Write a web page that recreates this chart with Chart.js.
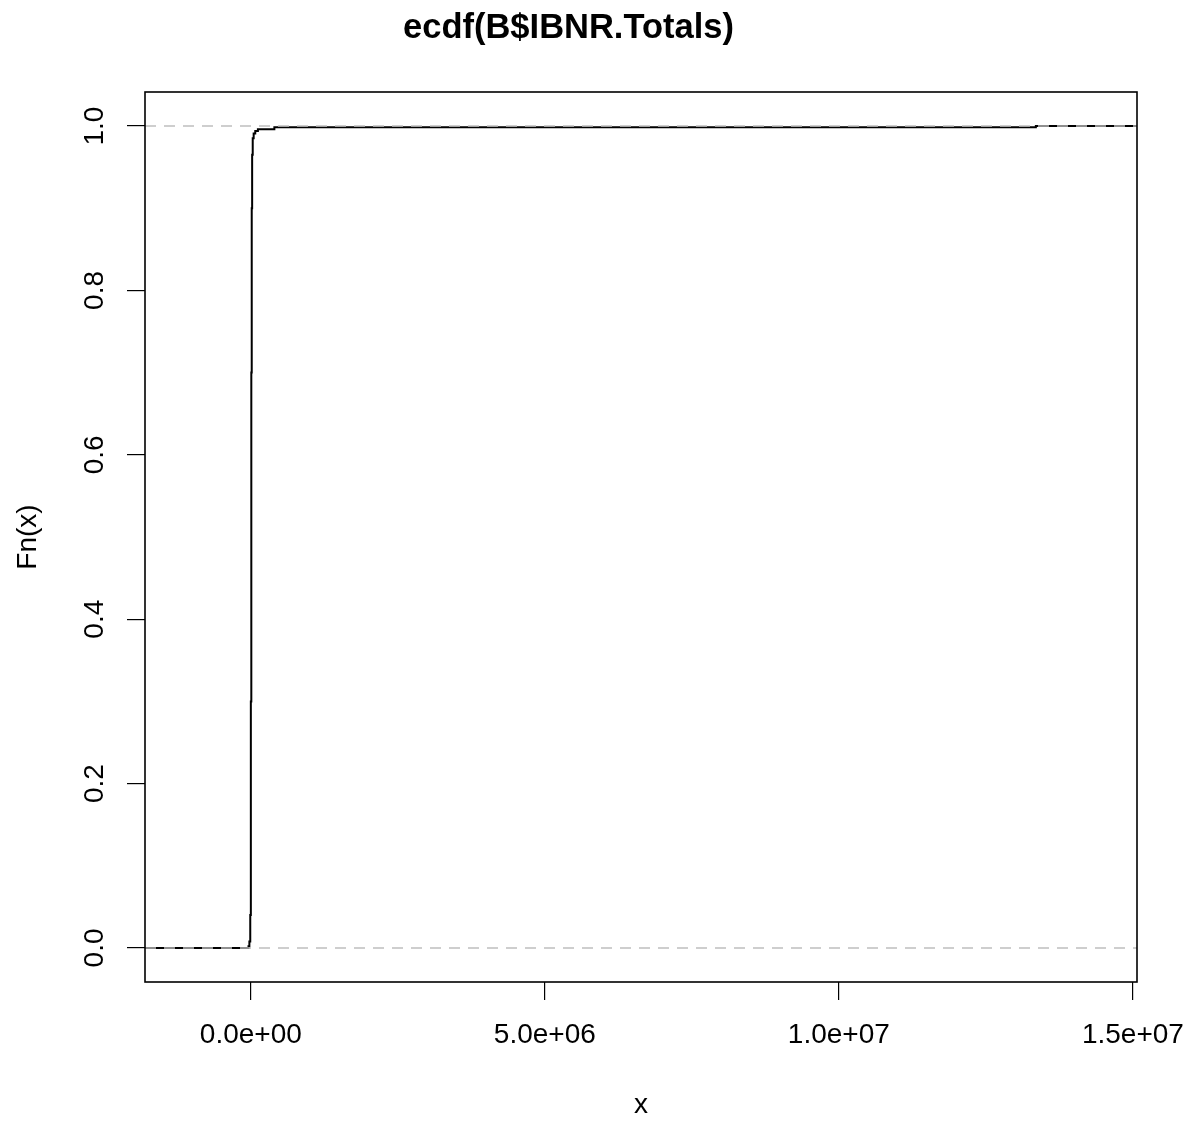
<!DOCTYPE html>
<html>
<head>
<meta charset="utf-8">
<script src="https://cdn.jsdelivr.net/npm/chart.js@4"></script>
<style>
  html, body { margin: 0; padding: 0; background: #fff; }
  #wrap { width: 1195px; height: 1124px; position: relative; }
</style>
</head>
<body>
<div id="wrap"><canvas id="c" width="1195" height="1124"></canvas></div>
<script>
// ---- data ----
const xRange = [-1800000, 15070000];
const yRange = [-0.0414, 1.0414];
const ecdfX = [-1800000, -40000, -25000, -10000, 0, 8000, 15000, 22000, 32000, 48000, 75000, 120000, 400000, 13350000, 15070000];
const ecdfY = [0, 0.002, 0.008, 0.04, 0.3, 0.7, 0.9, 0.965, 0.985, 0.991, 0.994, 0.996, 0.9985, 1.0, 1.0];
const refLevels = [0, 1];
const xTicks = [0, 5000000, 10000000, 15000000];
const xTickLabels = ['0.0e+00', '5.0e+06', '1.0e+07', '1.5e+07'];
const yTicks = [0, 0.2, 0.4, 0.6, 0.8, 1.0];
const yTickLabels = ['0.0', '0.2', '0.4', '0.6', '0.8', '1.0'];

const FONT = '"Liberation Sans", Arial, Helvetica, sans-serif';

const ecdfData = ecdfX.map((x, i) => ({ x: x, y: ecdfY[i] }));
const refSets = refLevels.map(v => ({
  data: [{ x: xRange[0], y: v }, { x: xRange[1], y: v }],
  borderColor: '#bebebe',
  borderWidth: 1.5,
  borderDash: [11, 8],
  pointRadius: 0,
  tension: 0,
  order: 0
}));

const boxPlugin = {
  id: 'box',
  afterDraw(chart) {
    const a = chart.chartArea, ctx = chart.ctx;
    ctx.save();
    ctx.strokeStyle = '#000';
    ctx.lineWidth = 1.6;
    ctx.strokeRect(a.left, a.top, a.right - a.left, a.bottom - a.top);
    ctx.restore();
  }
};

new Chart(document.getElementById('c'), {
  type: 'line',
  data: {
    datasets: [
      {
        data: ecdfData,
        borderColor: '#000',
        borderWidth: 2,
        stepped: 'before',
        pointRadius: 0,
        tension: 0,
        order: 1
      },
      ...refSets
    ]
  },
  options: {
    responsive: false,
    animation: false,
    events: [],
    layout: { padding: { left: 0, right: 58, top: 0, bottom: 0 } },
    plugins: {
      legend: { display: false },
      tooltip: { enabled: false },
      title: {
        display: true,
        text: 'ecdf(B$IBNR.Totals)',
        color: '#000',
        font: { family: FONT, size: 34.5, weight: 'bold', lineHeight: 1.2 },
        padding: { top: 8, bottom: 42.6 }
      }
    },
    scales: {
      x: {
        type: 'linear',
        min: xRange[0],
        max: xRange[1],
        border: { display: false },
        grid: { drawOnChartArea: false, drawTicks: true, tickLength: 18, color: '#000', lineWidth: 1.2 },
        afterBuildTicks: s => { s.ticks = xTicks.map(v => ({ value: v })); },
        afterFit: s => { s.height = 142; s.paddingLeft = 0; s.paddingRight = 0; },
        ticks: {
          color: '#000',
          font: { family: FONT, size: 28 },
          padding: 18,
          maxRotation: 0,
          minRotation: 0,
          autoSkip: false,
          callback: (v, i) => xTickLabels[i]
        },
        title: {
          display: true,
          text: 'x',
          color: '#000',
          font: { family: FONT, size: 28 },
          padding: { top: 0, bottom: 2 }
        }
      },
      y: {
        type: 'linear',
        min: yRange[0],
        max: yRange[1],
        border: { display: false },
        grid: { drawOnChartArea: false, drawTicks: true, tickLength: 18, color: '#000', lineWidth: 1.2 },
        afterBuildTicks: s => { s.ticks = yTicks.map(v => ({ value: v })); },
        afterFit: s => { s.width = 145; s.paddingTop = 0; s.paddingBottom = 0; },
        ticks: {
          color: '#000',
          font: { family: FONT, size: 28 },
          padding: 12.5,
          minRotation: 90,
          maxRotation: 90,
          crossAlign: 'center',
          autoSkip: false,
          callback: (v, i) => yTickLabels[i]
        },
        title: {
          display: true,
          text: 'Fn(x)',
          color: '#000',
          font: { family: FONT, size: 28 },
          padding: { top: 11, bottom: 0 }
        }
      }
    }
  },
  plugins: [boxPlugin]
});
</script>
</body>
</html>
